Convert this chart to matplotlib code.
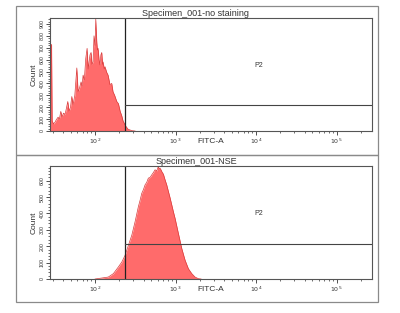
import numpy as np
import matplotlib
matplotlib.use("Agg")
import matplotlib.pyplot as plt
from matplotlib.ticker import LogLocator, MultipleLocator, NullFormatter, FixedLocator
from matplotlib.patches import Rectangle

plt.rcParams['font.family'] = ['Liberation Sans', 'DejaVu Sans']

# histogram of the unstained sample (FITC-A value, count)
fitc_top = [27.6, 28.8, 29.3, 30.5, 31.8, 33.0, 34.7, 36.0, 37.5, 38.9, 40.5, 42.4, 44.0,
            45.8, 47.5, 49.5, 51.4, 53.3, 56.0, 59.3, 61.5, 64.0, 67.0, 69.0, 71.0, 73.5,
            76.6, 79.6, 82.0, 84.2, 86.5, 89.2, 91.5, 94.4, 97.0, 100, 102, 105, 107,
            109, 112, 115, 118, 121, 124, 126, 130, 133, 139, 145, 153, 161, 167, 175,
            186, 195, 205, 214, 223, 241, 257, 286, 314]
count_top = [727, 727, 83, 60, 74, 95, 116, 100, 165, 118, 150, 140, 190,
             248, 165, 200, 290, 223, 300, 530, 330, 360, 413, 380, 470, 430,
             610, 695, 520, 580, 640, 660, 560, 580, 800, 720, 940, 745, 680,
             695, 600, 555, 640, 660, 560, 580, 520, 540, 495, 470, 390, 400, 330, 300,
             248, 230, 165, 130, 83, 40, 15, 3, 0]

# histogram of the NSE stained sample
fitc_bot = [100, 121, 146, 169, 195, 215, 236, 260, 286, 314, 345, 362, 380, 398, 418,
            438, 459, 482, 506, 530, 556, 583, 611, 625, 641, 657, 674, 706, 741, 776,
            815, 855, 897, 940, 986, 1084, 1194, 1312, 1442, 1588, 1745, 1919, 2074]
count_bot = [0, 6, 12, 33, 74, 104, 145, 207, 268, 350, 442, 480, 523, 545, 575,
             590, 616, 620, 636, 650, 667, 660, 687, 670, 677, 668, 656, 640, 605, 575,
             534, 495, 452, 410, 370, 278, 186, 115, 63, 33, 12, 2, 0]

panels = [
    dict(title="Specimen_001-no staining", x=fitc_top, y=count_top, ymax=950,
         gate_x=236, gate_y=220, yticks=range(0, 1000, 100)),
    dict(title="Specimen_001-NSE", x=fitc_bot, y=count_bot, ymax=690,
         gate_x=236, gate_y=215, yticks=range(0, 700, 100)),
]

W, H = 400, 313
fig = plt.figure(figsize=(W / 100, H / 100), dpi=100)

# outer frames of the two panels
for y0, y1 in [(6, 155), (155, 302)]:
    fig.patches.append(Rectangle((16 / W, 1 - y1 / H), 362 / W, (y1 - y0) / H,
                                 transform=fig.transFigure, fill=False,
                                 edgecolor='#8a8a8a', lw=0.9))

ax_boxes = [(18, 131), (166, 279)]
for p, (top, bot) in zip(panels, ax_boxes):
    ax = fig.add_axes([50 / W, 1 - bot / H, 322 / W, (bot - top) / H])
    ax.fill_between(p['x'], p['y'], 0, color='#ff6b6b', lw=0)
    ax.plot(p['x'], p['y'], color='#d83a3a', lw=0.5)
    ax.set_xscale('log')
    ax.set_xlim(10 ** 1.44, 10 ** 5.44)
    ax.set_ylim(0, p['ymax'])

    # gate P2
    ax.axvline(p['gate_x'], color='#222222', lw=0.9)
    ax.plot([p['gate_x'], 10 ** 5.44], [p['gate_y'], p['gate_y']], color='#444444', lw=0.8)
    ax.text(10 ** 4.03, p['ymax'] * 0.58, "P2", fontsize=5, ha='center', va='center',
            color='#333333')

    ax.xaxis.set_major_locator(FixedLocator([1e2, 1e3, 1e4, 1e5]))
    ax.xaxis.set_minor_locator(LogLocator(base=10, subs=np.arange(2, 10)))
    ax.xaxis.set_minor_formatter(NullFormatter())
    ax.set_xticklabels(["$10^2$", "$10^3$", "$10^4$", "$10^5$"], fontsize=4.5, color='#333333')
    ax.set_yticks(list(p['yticks']))
    ax.set_yticklabels([str(v) for v in p['yticks']], fontsize=3.8, rotation=90,
                       va='center', color='#333333')
    ax.yaxis.set_minor_locator(MultipleLocator(20))
    ax.tick_params(which='major', length=3, width=0.6, pad=1, color='#333333')
    ax.tick_params(which='minor', length=1.6, width=0.5, color='#333333')
    for s in ax.spines.values():
        s.set_linewidth(0.8)
        s.set_color('#555555')

    ax.set_xlabel("FITC-A", fontsize=6, labelpad=-6, color='#333333')
    ax.xaxis.set_label_coords(0.5, -0.06)
    ax.set_ylabel("Count", fontsize=6, labelpad=1, color='#333333')
    fig.text(196 / W, 1 - (top - 5) / H, p['title'], fontsize=6.5, ha='center',
             va='center', color='#333333')

fig.savefig("out.png", dpi=100)
